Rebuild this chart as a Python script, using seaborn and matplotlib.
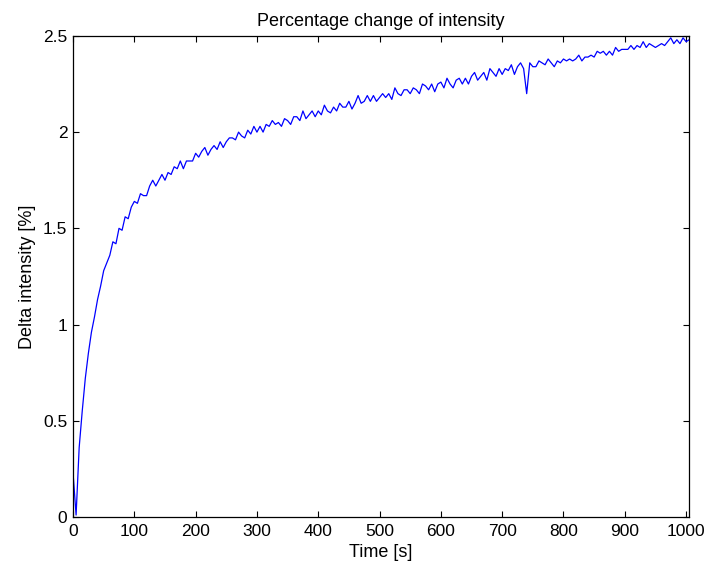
import matplotlib
matplotlib.use("Agg")
import matplotlib.pyplot as plt
import seaborn as sns
import pandas as pd

# time axis in seconds, 5 s steps
time_s = list(range(0, 1010, 5))

# delta intensity [%]
delta = [
    0.23, 0.01, 0.36, 0.55, 0.72, 0.85, 0.96, 1.04, 1.13, 1.20,
    1.28, 1.32, 1.36, 1.43, 1.42, 1.50, 1.49, 1.56, 1.55, 1.61,
    1.64, 1.63, 1.68, 1.67, 1.67, 1.72, 1.75, 1.72, 1.75, 1.78,
    1.75, 1.79, 1.78, 1.82, 1.81, 1.85, 1.81, 1.85, 1.85, 1.85,
    1.89, 1.87, 1.90, 1.92, 1.88, 1.91, 1.93, 1.91, 1.95, 1.92,
    1.95, 1.97, 1.97, 1.96, 2.00, 1.98, 1.97, 2.01, 1.99, 2.03,
    2.00, 2.03, 2.00, 2.04, 2.03, 2.06, 2.04, 2.05, 2.03, 2.07,
    2.06, 2.04, 2.08, 2.08, 2.06, 2.11, 2.07, 2.09, 2.11, 2.08,
    2.11, 2.09, 2.14, 2.11, 2.10, 2.13, 2.11, 2.15, 2.13, 2.13,
    2.16, 2.12, 2.15, 2.19, 2.15, 2.16, 2.19, 2.16, 2.19, 2.16,
    2.18, 2.20, 2.18, 2.20, 2.17, 2.23, 2.20, 2.19, 2.22, 2.22,
    2.20, 2.23, 2.22, 2.20, 2.25, 2.24, 2.22, 2.25, 2.21, 2.25,
    2.26, 2.23, 2.28, 2.25, 2.23, 2.27, 2.28, 2.25, 2.28, 2.25,
    2.29, 2.31, 2.27, 2.29, 2.31, 2.27, 2.33, 2.31, 2.29, 2.33,
    2.30, 2.33, 2.32, 2.35, 2.30, 2.34, 2.36, 2.33, 2.20, 2.36,
    2.34, 2.34, 2.37, 2.36, 2.35, 2.38, 2.36, 2.34, 2.37, 2.36,
    2.38, 2.37, 2.38, 2.37, 2.38, 2.40, 2.37, 2.39, 2.39, 2.40,
    2.39, 2.42, 2.41, 2.42, 2.40, 2.42, 2.40, 2.44, 2.42, 2.43,
    2.43, 2.43, 2.45, 2.43, 2.45, 2.44, 2.47, 2.44, 2.46, 2.45,
    2.44, 2.45, 2.46, 2.45, 2.47, 2.49, 2.46, 2.48, 2.46, 2.49,
    2.47, 2.48,
]

x_ticks = list(range(0, 1001, 100))
y_ticks = [0, 0.5, 1, 1.5, 2, 2.5]
y_tick_labels = ["0", "0.5", "1", "1.5", "2", "2.5"]

df = pd.DataFrame({"t": time_s, "d": delta})

sns.set_style("ticks", {"xtick.direction": "in", "ytick.direction": "in"})
plt.rcParams["font.family"] = ["Liberation Sans", "DejaVu Sans"]
plt.rcParams["text.color"] = "black"
plt.rcParams["axes.labelcolor"] = "black"

fig = plt.figure(figsize=(7.09, 5.70), dpi=100, facecolor="white")
ax = fig.add_axes([0.103, 0.093, 0.869, 0.844])
sns.lineplot(data=df, x="t", y="d", color="#0000ff", linewidth=0.9, ax=ax)

ax.set_xlim(0, 1005)
ax.set_ylim(0, 2.5)
ax.set_xticks(x_ticks)
ax.set_yticks(y_ticks)
ax.set_yticklabels(y_tick_labels)
ax.tick_params(top=True, right=True, labelsize=12.5, length=4, width=0.8, colors="black")
ax.tick_params(axis="x", pad=5)
ax.tick_params(axis="y", pad=4)
for s in ax.spines.values():
    s.set_linewidth(0.9)
    s.set_color("black")

ax.set_title("Percentage change of intensity", fontsize=13, pad=7, color="black")
ax.set_xlabel("Time [s]", fontsize=13, labelpad=4, color="black")
ax.set_ylabel("Delta intensity [%]", fontsize=13, labelpad=5, color="black")

fig.savefig("out.png", dpi=100, facecolor="white")
